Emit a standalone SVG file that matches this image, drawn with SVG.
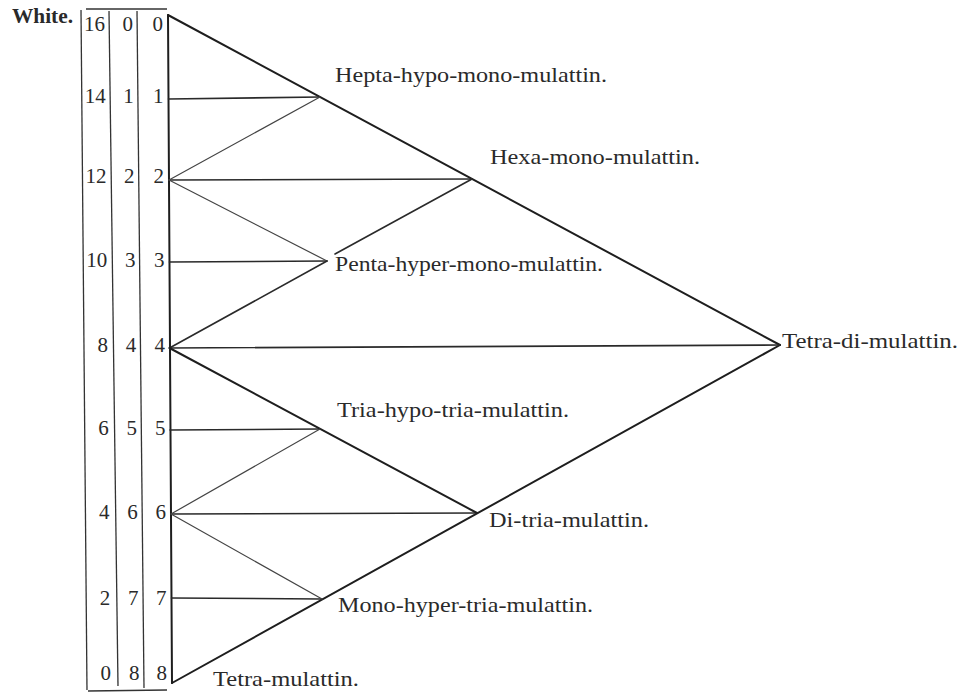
<svg xmlns="http://www.w3.org/2000/svg" width="964" height="693" viewBox="0 0 964 693">
<style>
text{font-family:"Liberation Serif","DejaVu Serif",serif;fill:#2a2a2a}
.lbl{font-size:21px}
.num{font-size:21px;text-anchor:end}
.thick{stroke:#1e1e1e;stroke-width:2;fill:none;stroke-linecap:round}
.mid{stroke:#2a2a2a;stroke-width:1.6;fill:none;stroke-linecap:round}
.thin{stroke:#444;stroke-width:1.2;fill:none;stroke-linecap:round}
.rule{stroke:#333;stroke-width:1.3;fill:none}
</style>
<rect width="964" height="693" fill="#fff"/>
<g id="table">
<text x="12" y="23" style="font-size:21px;font-weight:bold" textLength="61" lengthAdjust="spacingAndGlyphs">White.</text>
<line class="rule" x1="81" y1="10" x2="87" y2="690"/>
<line class="rule" x1="109" y1="11" x2="118" y2="686"/>
<line class="rule" x1="137" y1="11" x2="144" y2="688"/>
<line class="rule" x1="86" y1="9" x2="167" y2="9"/>
<line class="rule" x1="88" y1="691" x2="167" y2="690"/>
<g>
<text class="num" x="105" y="31">16</text>
<text class="num" x="105.8" y="103">14</text>
<text class="num" x="106.5" y="183">12</text>
<text class="num" x="107.3" y="267">10</text>
<text class="num" x="108" y="352">8</text>
<text class="num" x="108.8" y="435">6</text>
<text class="num" x="109.5" y="519">4</text>
<text class="num" x="110.3" y="605">2</text>
<text class="num" x="111" y="680">0</text>
<text class="num" x="133" y="31">0</text>
<text class="num" x="133.8" y="103">1</text>
<text class="num" x="134.6" y="183">2</text>
<text class="num" x="135.4" y="267">3</text>
<text class="num" x="136.2" y="352">4</text>
<text class="num" x="137" y="435">5</text>
<text class="num" x="137.8" y="519">6</text>
<text class="num" x="138.6" y="605">7</text>
<text class="num" x="139.4" y="680">8</text>
<text class="num" x="163" y="31">0</text>
<text class="num" x="163.5" y="103">1</text>
<text class="num" x="164" y="183">2</text>
<text class="num" x="164.5" y="267">3</text>
<text class="num" x="165" y="352">4</text>
<text class="num" x="165.5" y="435">5</text>
<text class="num" x="166" y="519">6</text>
<text class="num" x="166.5" y="605">7</text>
<text class="num" x="167" y="680">8</text>
</g>
</g>
<g id="connectors">
<line class="thick" x1="168" y1="15" x2="172" y2="683"/>
<line class="thick" x1="168" y1="15" x2="780" y2="345"/>
<line class="thick" x1="172" y1="683" x2="780" y2="345"/>
<line class="mid" x1="169.5" y1="348" x2="780" y2="345"/>
<line class="mid" x1="168.5" y1="99" x2="320" y2="97"/>
<line class="mid" x1="169" y1="180" x2="472" y2="179"/>
<line class="mid" x1="169.5" y1="262" x2="327" y2="261"/>
<line class="mid" x1="170" y1="430" x2="320" y2="429"/>
<line class="mid" x1="171" y1="514" x2="477" y2="513"/>
<line class="mid" x1="171.5" y1="598" x2="322" y2="599"/>
<line class="thin" x1="169" y1="180" x2="320" y2="97"/>
<line class="thin" x1="169" y1="180" x2="327" y2="261"/>
<line class="mid" x1="169.5" y1="348" x2="327" y2="261"/>
<line class="mid" x1="335" y1="254" x2="472" y2="179"/>
<line class="thick" x1="169.5" y1="348" x2="477" y2="513"/>
<line class="thin" x1="171" y1="514" x2="320" y2="429"/>
<line class="thin" x1="171" y1="514" x2="322" y2="599"/>
</g>
<g id="hepta"><text class="lbl" x="335" y="82" textLength="272" lengthAdjust="spacingAndGlyphs">Hepta-hypo-mono-mulattin.</text></g>
<g id="hexa"><text class="lbl" x="490" y="164" textLength="210" lengthAdjust="spacingAndGlyphs">Hexa-mono-mulattin.</text></g>
<g id="penta"><text class="lbl" x="335" y="271" textLength="268" lengthAdjust="spacingAndGlyphs">Penta-hyper-mono-mulattin.</text></g>
<g id="tetradi"><text class="lbl" x="782" y="348" textLength="176" lengthAdjust="spacingAndGlyphs">Tetra-di-mulattin.</text></g>
<g id="triahypo"><text class="lbl" x="337" y="417" textLength="232" lengthAdjust="spacingAndGlyphs">Tria-hypo-tria-mulattin.</text></g>
<g id="ditria"><text class="lbl" x="489" y="527" textLength="160" lengthAdjust="spacingAndGlyphs">Di-tria-mulattin.</text></g>
<g id="monohyper"><text class="lbl" x="338" y="612" textLength="255" lengthAdjust="spacingAndGlyphs">Mono-hyper-tria-mulattin.</text></g>
<g id="tetra"><text class="lbl" x="213" y="686" textLength="146" lengthAdjust="spacingAndGlyphs">Tetra-mulattin.</text></g>
</svg>
